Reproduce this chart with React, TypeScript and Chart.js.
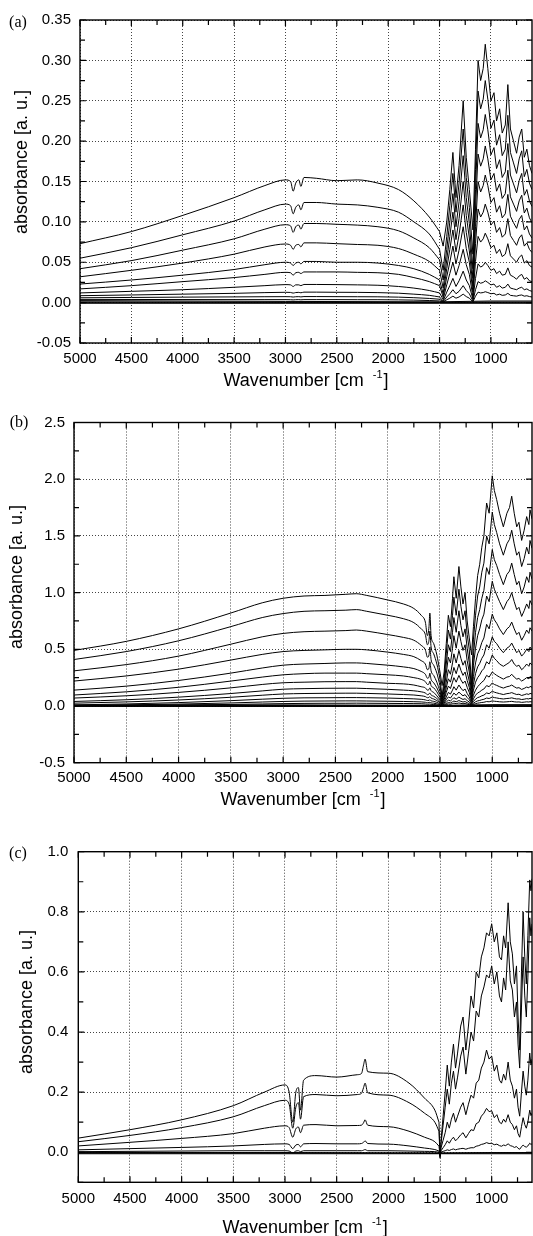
import React, { useEffect, useRef } from 'react';
import { Chart, registerables } from 'chart.js';
Chart.register(...registerables);

// ---------------- Panel (a) ----------------
const A_WN = [5000, 4500, 4000, 3500, 3200, 3000, 2950, 2925, 2900, 2870, 2850, 2820, 2700, 2500, 2300, 2100, 1900, 1750, 1600, 1500,
  1465, 1430, 1400, 1370, 1340, 1310, 1270, 1240, 1210, 1175, 1150, 1125, 1100, 1075, 1055, 1030, 1000, 970, 945, 915, 890, 860, 835, 810, 780, 750, 725, 700, 675, 650, 625, 600];
const A1 = [0.073, 0.088, 0.108, 0.130, 0.145, 0.152, 0.150, 0.138, 0.148, 0.152, 0.144, 0.155, 0.154, 0.151, 0.152, 0.148, 0.140, 0.126, 0.106, 0.088,
  0.070, 0.100, 0.140, 0.186, 0.130, 0.170, 0.250, 0.180, 0.140, 0.090, 0.190, 0.300, 0.275, 0.290, 0.320, 0.290, 0.250, 0.260, 0.225, 0.240, 0.210, 0.220, 0.270, 0.215, 0.200, 0.185, 0.205, 0.215, 0.180, 0.190, 0.170, 0.160];
const A2 = [0.055, 0.068, 0.084, 0.101, 0.115, 0.122, 0.120, 0.110, 0.118, 0.121, 0.115, 0.124, 0.124, 0.122, 0.121, 0.118, 0.112, 0.100, 0.085, 0.066,
  0.040, 0.082, 0.120, 0.160, 0.112, 0.148, 0.215, 0.155, 0.118, 0.060, 0.165, 0.262, 0.240, 0.252, 0.275, 0.252, 0.216, 0.226, 0.195, 0.208, 0.182, 0.190, 0.232, 0.186, 0.173, 0.160, 0.178, 0.188, 0.156, 0.165, 0.148, 0.140];
const A3 = [0.042, 0.052, 0.065, 0.079, 0.091, 0.0965, 0.095, 0.087, 0.094, 0.096, 0.091, 0.098, 0.098, 0.097, 0.096, 0.094, 0.089, 0.080, 0.068, 0.053,
  0.028, 0.066, 0.100, 0.135, 0.094, 0.125, 0.182, 0.130, 0.098, 0.042, 0.140, 0.222, 0.204, 0.214, 0.233, 0.214, 0.183, 0.192, 0.166, 0.177, 0.155, 0.162, 0.197, 0.158, 0.147, 0.136, 0.151, 0.160, 0.133, 0.140, 0.126, 0.119];
const A4 = [0.032, 0.040, 0.049, 0.060, 0.069, 0.0726, 0.071, 0.066, 0.071, 0.072, 0.069, 0.074, 0.074, 0.073, 0.072, 0.071, 0.067, 0.060, 0.051, 0.040,
  0.018, 0.053, 0.082, 0.112, 0.078, 0.104, 0.150, 0.108, 0.080, 0.030, 0.116, 0.184, 0.169, 0.178, 0.194, 0.178, 0.152, 0.160, 0.138, 0.147, 0.129, 0.135, 0.164, 0.131, 0.122, 0.113, 0.126, 0.133, 0.111, 0.117, 0.105, 0.099];
const A5 = [0.023, 0.028, 0.034, 0.041, 0.047, 0.050, 0.049, 0.046, 0.049, 0.050, 0.048, 0.051, 0.051, 0.050, 0.050, 0.049, 0.046, 0.042, 0.035, 0.028,
  0.011, 0.042, 0.066, 0.090, 0.063, 0.084, 0.121, 0.087, 0.064, 0.020, 0.094, 0.150, 0.137, 0.145, 0.158, 0.145, 0.124, 0.130, 0.112, 0.120, 0.105, 0.110, 0.134, 0.107, 0.099, 0.092, 0.103, 0.108, 0.090, 0.095, 0.085, 0.080];
const A6 = [0.017, 0.021, 0.026, 0.031, 0.035, 0.0375, 0.037, 0.034, 0.037, 0.0375, 0.036, 0.038, 0.038, 0.038, 0.0375, 0.037, 0.035, 0.031, 0.026, 0.021,
  0.007, 0.032, 0.050, 0.070, 0.048, 0.065, 0.094, 0.067, 0.050, 0.013, 0.073, 0.116, 0.106, 0.112, 0.122, 0.112, 0.096, 0.101, 0.087, 0.093, 0.081, 0.085, 0.104, 0.083, 0.077, 0.071, 0.080, 0.084, 0.070, 0.074, 0.066, 0.062];
const A7 = [0.012, 0.014, 0.016, 0.019, 0.021, 0.0223, 0.022, 0.020, 0.022, 0.022, 0.021, 0.0225, 0.0225, 0.0223, 0.022, 0.0215, 0.020, 0.018, 0.015, 0.012,
  0.004, 0.022, 0.036, 0.050, 0.034, 0.046, 0.066, 0.047, 0.035, 0.007, 0.051, 0.082, 0.075, 0.079, 0.086, 0.079, 0.068, 0.071, 0.061, 0.066, 0.057, 0.060, 0.073, 0.058, 0.054, 0.050, 0.056, 0.059, 0.049, 0.052, 0.046, 0.044];
const A8 = [0.0086, 0.0095, 0.0105, 0.0115, 0.0124, 0.0128, 0.0126, 0.0118, 0.0125, 0.0127, 0.0122, 0.013, 0.013, 0.0128, 0.0127, 0.0124, 0.0117, 0.0105, 0.009, 0.007,
  0.002, 0.013, 0.021, 0.030, 0.020, 0.027, 0.039, 0.028, 0.021, 0.004, 0.030, 0.048, 0.044, 0.046, 0.050, 0.046, 0.040, 0.042, 0.036, 0.039, 0.034, 0.035, 0.043, 0.034, 0.032, 0.029, 0.033, 0.035, 0.029, 0.031, 0.027, 0.026];
const A9 = [0.006, 0.0064, 0.0068, 0.0071, 0.0073, 0.0074, 0.0073, 0.0069, 0.0073, 0.0074, 0.0071, 0.0075, 0.0075, 0.0074, 0.0073, 0.0072, 0.0068, 0.0061, 0.0052, 0.0042,
  0.001, 0.007, 0.011, 0.016, 0.011, 0.014, 0.021, 0.015, 0.011, 0.002, 0.016, 0.026, 0.024, 0.025, 0.027, 0.025, 0.022, 0.023, 0.019, 0.021, 0.018, 0.019, 0.023, 0.018, 0.017, 0.016, 0.018, 0.019, 0.016, 0.017, 0.015, 0.014];
const A10 = [0.004, 0.0039, 0.0038, 0.0037, 0.0037, 0.0037, 0.0036, 0.0034, 0.0036, 0.0037, 0.0035, 0.0037, 0.0037, 0.0037, 0.0036, 0.0036, 0.0034, 0.0031, 0.0026, 0.0021,
  0.0005, 0.0035, 0.0055, 0.008, 0.0055, 0.007, 0.0105, 0.0075, 0.0055, 0.001, 0.008, 0.013, 0.012, 0.0125, 0.0135, 0.0125, 0.011, 0.0115, 0.0095, 0.0105, 0.009, 0.0095, 0.0115, 0.009, 0.0085, 0.008, 0.009, 0.0095, 0.008, 0.0085, 0.0075, 0.007];
const A_BASE_WN = [5000, 3000, 1500, 1000, 600];
const A_BASE = [
  [0.0025, 0.0015, 0.001, 0.002, 0.002],
  [0.001, 0.0005, 0.0003, 0.0008, 0.0008],
  [0, 0, 0, 0, 0],
  [-0.0008, -0.0008, -0.0008, -0.0008, -0.0008],
];
const A_X_TICKS = [5000, 4500, 4000, 3500, 3000, 2500, 2000, 1500, 1000];
const A_X_MINOR = [4750, 4250, 3750, 3250, 2750, 2250, 1750, 1250, 750];
const A_Y_TICKS = [-0.05, 0, 0.05, 0.1, 0.15, 0.2, 0.25, 0.3, 0.35];
const A_Y_MINOR = [-0.025, 0.025, 0.075, 0.125, 0.175, 0.225, 0.275, 0.325];
const A_SMOOTH_END = 1500;

// ---------------- Panel (b) ----------------
const B_WN = [5000, 4500, 4000, 3500, 3200, 3000, 2800, 2600, 2400, 2300, 2200, 2000, 1850, 1750, 1680, 1640, 1620, 1605, 1597, 1585, 1560, 1530, 1500,
  1480, 1460, 1440, 1420, 1400, 1380, 1367, 1345, 1319, 1300, 1280, 1260, 1240, 1220, 1198, 1180, 1160, 1140, 1120, 1100, 1080, 1054, 1030, 1000, 980, 958, 930, 894, 860, 835, 814, 790, 766, 745, 719, 695, 671, 650, 639, 620];
const B1 = [0.49, 0.57, 0.68, 0.82, 0.91, 0.95, 0.97, 0.975, 0.985, 0.99, 0.975, 0.935, 0.90, 0.86, 0.80, 0.74, 0.62, 0.70, 0.82, 0.62, 0.55, 0.45, 0.30,
  0.18, 0.30, 0.55, 0.80, 0.70, 0.95, 1.14, 0.95, 1.23, 1.05, 0.90, 1.00, 0.75, 0.60, 0.45, 0.70, 0.95, 1.15, 1.25, 1.40, 1.50, 1.79, 1.70, 2.03, 1.90, 1.82, 1.70, 1.58, 1.70, 1.75, 1.85, 1.70, 1.58, 1.62, 1.46, 1.55, 1.67, 1.60, 1.73, 1.65];
const B2 = [0.41, 0.48, 0.575, 0.70, 0.78, 0.815, 0.835, 0.84, 0.845, 0.85, 0.835, 0.80, 0.77, 0.735, 0.68, 0.63, 0.54, 0.58, 0.66, 0.52, 0.46, 0.37, 0.24,
  0.08, 0.24, 0.46, 0.67, 0.59, 0.80, 0.96, 0.80, 1.03, 0.88, 0.76, 0.84, 0.63, 0.50, 0.19, 0.59, 0.80, 0.97, 1.05, 1.18, 1.26, 1.50, 1.43, 1.71, 1.60, 1.53, 1.43, 1.33, 1.43, 1.47, 1.55, 1.43, 1.33, 1.36, 1.23, 1.30, 1.40, 1.34, 1.46, 1.39];
const B3 = [0.31, 0.365, 0.44, 0.545, 0.61, 0.64, 0.655, 0.66, 0.665, 0.67, 0.66, 0.63, 0.605, 0.58, 0.535, 0.495, 0.43, 0.45, 0.52, 0.41, 0.36, 0.29, 0.18,
  0.06, 0.18, 0.37, 0.54, 0.48, 0.65, 0.78, 0.65, 0.84, 0.71, 0.61, 0.68, 0.51, 0.38, 0.15, 0.45, 0.65, 0.78, 0.85, 0.95, 1.02, 1.22, 1.16, 1.38, 1.29, 1.24, 1.16, 1.07, 1.16, 1.19, 1.26, 1.16, 1.07, 1.10, 0.99, 1.05, 1.14, 1.09, 1.18, 1.12];
const B4 = [0.22, 0.265, 0.325, 0.405, 0.455, 0.48, 0.49, 0.495, 0.50, 0.50, 0.495, 0.475, 0.455, 0.435, 0.40, 0.37, 0.32, 0.335, 0.39, 0.31, 0.27, 0.21, 0.13,
  0.045, 0.14, 0.29, 0.43, 0.38, 0.51, 0.62, 0.51, 0.66, 0.57, 0.49, 0.54, 0.40, 0.30, 0.11, 0.36, 0.51, 0.62, 0.68, 0.76, 0.81, 0.97, 0.92, 1.10, 1.03, 0.98, 0.92, 0.85, 0.92, 0.95, 1.00, 0.92, 0.85, 0.87, 0.79, 0.84, 0.90, 0.86, 0.93, 0.89];
const B5 = [0.14, 0.175, 0.225, 0.29, 0.335, 0.36, 0.37, 0.375, 0.38, 0.38, 0.375, 0.36, 0.345, 0.33, 0.305, 0.28, 0.245, 0.255, 0.29, 0.235, 0.205, 0.16, 0.10,
  0.03, 0.10, 0.21, 0.32, 0.28, 0.38, 0.46, 0.38, 0.49, 0.42, 0.36, 0.40, 0.30, 0.22, 0.08, 0.26, 0.38, 0.46, 0.50, 0.56, 0.60, 0.72, 0.68, 0.81, 0.76, 0.73, 0.68, 0.63, 0.68, 0.70, 0.74, 0.68, 0.63, 0.65, 0.58, 0.62, 0.67, 0.64, 0.69, 0.66];
const B6 = [0.097, 0.125, 0.165, 0.22, 0.255, 0.275, 0.285, 0.29, 0.29, 0.29, 0.285, 0.275, 0.265, 0.25, 0.235, 0.215, 0.19, 0.195, 0.22, 0.18, 0.16, 0.125, 0.075,
  0.02, 0.075, 0.16, 0.24, 0.21, 0.285, 0.34, 0.285, 0.37, 0.315, 0.27, 0.30, 0.225, 0.165, 0.06, 0.19, 0.285, 0.345, 0.375, 0.42, 0.45, 0.54, 0.51, 0.61, 0.57, 0.55, 0.51, 0.47, 0.51, 0.525, 0.555, 0.51, 0.47, 0.49, 0.44, 0.465, 0.50, 0.48, 0.52, 0.495];
const B7 = [0.07, 0.09, 0.12, 0.16, 0.19, 0.205, 0.21, 0.214, 0.215, 0.215, 0.21, 0.20, 0.195, 0.185, 0.17, 0.16, 0.14, 0.145, 0.16, 0.135, 0.12, 0.09, 0.055,
  0.015, 0.055, 0.12, 0.176, 0.154, 0.21, 0.25, 0.21, 0.27, 0.23, 0.20, 0.22, 0.165, 0.12, 0.045, 0.14, 0.21, 0.25, 0.275, 0.31, 0.33, 0.39, 0.37, 0.45, 0.42, 0.40, 0.37, 0.35, 0.37, 0.385, 0.41, 0.37, 0.35, 0.36, 0.32, 0.34, 0.37, 0.35, 0.38, 0.36];
const B8 = [0.04, 0.055, 0.078, 0.11, 0.133, 0.148, 0.153, 0.156, 0.157, 0.157, 0.154, 0.147, 0.14, 0.134, 0.125, 0.115, 0.10, 0.105, 0.115, 0.097, 0.086, 0.066, 0.04,
  0.01, 0.037, 0.08, 0.12, 0.105, 0.14, 0.17, 0.14, 0.185, 0.158, 0.135, 0.15, 0.11, 0.08, 0.03, 0.095, 0.14, 0.17, 0.19, 0.21, 0.225, 0.27, 0.255, 0.30, 0.285, 0.27, 0.255, 0.237, 0.255, 0.26, 0.28, 0.255, 0.237, 0.243, 0.22, 0.233, 0.25, 0.24, 0.26, 0.248];
const B9 = [0.025, 0.036, 0.053, 0.077, 0.095, 0.106, 0.11, 0.112, 0.113, 0.113, 0.111, 0.106, 0.101, 0.097, 0.09, 0.083, 0.073, 0.076, 0.083, 0.07, 0.062, 0.048, 0.029,
  0.007, 0.025, 0.055, 0.08, 0.07, 0.095, 0.114, 0.095, 0.123, 0.105, 0.09, 0.10, 0.075, 0.055, 0.02, 0.063, 0.095, 0.115, 0.125, 0.14, 0.15, 0.18, 0.17, 0.203, 0.19, 0.182, 0.17, 0.158, 0.17, 0.175, 0.185, 0.17, 0.158, 0.162, 0.146, 0.155, 0.167, 0.16, 0.173, 0.165];
const B10 = [0.01, 0.018, 0.03, 0.047, 0.06, 0.068, 0.072, 0.073, 0.074, 0.074, 0.073, 0.07, 0.066, 0.063, 0.059, 0.054, 0.048, 0.05, 0.054, 0.046, 0.041, 0.032, 0.019,
  0.004, 0.016, 0.035, 0.051, 0.045, 0.061, 0.073, 0.061, 0.079, 0.067, 0.058, 0.064, 0.048, 0.035, 0.013, 0.04, 0.061, 0.074, 0.08, 0.09, 0.096, 0.115, 0.109, 0.13, 0.122, 0.116, 0.109, 0.101, 0.109, 0.112, 0.118, 0.109, 0.101, 0.104, 0.093, 0.099, 0.107, 0.102, 0.111, 0.106];
const B11 = [0.005, 0.01, 0.017, 0.027, 0.035, 0.04, 0.043, 0.044, 0.045, 0.045, 0.044, 0.042, 0.04, 0.038, 0.036, 0.033, 0.029, 0.03, 0.033, 0.028, 0.025, 0.019, 0.012,
  0.003, 0.01, 0.021, 0.031, 0.027, 0.037, 0.044, 0.037, 0.048, 0.041, 0.035, 0.039, 0.029, 0.021, 0.008, 0.025, 0.037, 0.045, 0.049, 0.055, 0.059, 0.07, 0.066, 0.079, 0.074, 0.071, 0.066, 0.062, 0.066, 0.068, 0.072, 0.066, 0.062, 0.063, 0.057, 0.06, 0.065, 0.062, 0.068, 0.064];
const B12 = [0.002, 0.005, 0.009, 0.014, 0.018, 0.021, 0.023, 0.024, 0.024, 0.025, 0.024, 0.023, 0.022, 0.021, 0.02, 0.018, 0.016, 0.016, 0.018, 0.015, 0.013, 0.01, 0.006,
  0.002, 0.006, 0.012, 0.018, 0.015, 0.021, 0.025, 0.021, 0.027, 0.023, 0.02, 0.022, 0.017, 0.012, 0.005, 0.014, 0.021, 0.025, 0.028, 0.031, 0.033, 0.039, 0.037, 0.045, 0.042, 0.04, 0.037, 0.035, 0.037, 0.039, 0.041, 0.037, 0.035, 0.036, 0.032, 0.034, 0.037, 0.035, 0.038, 0.036];
const B_BASE_WN = [5000, 3000, 1500, 1000, 620];
const B_BASE = [
  [0.008, 0.01, 0.006, 0.012, 0.012],
  [0.003, 0.004, 0.002, 0.005, 0.005],
  [0, 0, 0, 0, 0],
  [-0.004, -0.004, -0.004, -0.004, -0.004],
];
const B_X_TICKS = [5000, 4500, 4000, 3500, 3000, 2500, 2000, 1500, 1000];
const B_X_MINOR = [4750, 4250, 3750, 3250, 2750, 2250, 1750, 1250, 750];
const B_Y_TICKS = [-0.5, 0, 0.5, 1.0, 1.5, 2.0, 2.5];
const B_Y_MINOR = [-0.25, 0.25, 0.75, 1.25, 1.75, 2.25];
const B_SMOOTH_END = 1500;

// ---------------- Panel (c) ----------------
const C_WN = [5000, 4500, 4000, 3500, 3200, 3000, 2960, 2925, 2895, 2870, 2850, 2820, 2700, 2500, 2300, 2260, 2240, 2225, 2200, 2000, 1800, 1650, 1550, 1510,
  1500, 1490, 1470, 1450, 1430, 1410, 1390, 1370, 1350, 1330, 1300, 1277, 1250, 1225, 1200, 1175, 1150, 1125, 1100, 1075, 1050, 1025, 1000, 975, 950, 925, 905, 885, 865, 841, 820, 800, 780, 760, 745, 729, 712, 696, 680, 665, 650, 632, 620, 610];
const C1 = [0.047, 0.075, 0.108, 0.155, 0.200, 0.224, 0.200, 0.100, 0.200, 0.215, 0.140, 0.240, 0.255, 0.250, 0.258, 0.262, 0.290, 0.310, 0.268, 0.263, 0.230, 0.180, 0.140, 0.100,
  -0.020, 0.040, 0.120, 0.200, 0.290, 0.220, 0.300, 0.360, 0.280, 0.330, 0.420, 0.450, 0.340, 0.420, 0.520, 0.480, 0.600, 0.580, 0.650, 0.680,
  0.730, 0.720, 0.760, 0.700, 0.730, 0.650, 0.640, 0.720, 0.680, 0.830, 0.700, 0.660, 0.560, 0.620, 0.450, 0.340, 0.600, 0.800, 0.650, 0.560, 0.720, 0.906, 0.870, 0.910];
const C2 = [0.035, 0.056, 0.082, 0.118, 0.155, 0.173, 0.160, 0.080, 0.150, 0.165, 0.110, 0.185, 0.192, 0.188, 0.192, 0.196, 0.215, 0.230, 0.198, 0.190, 0.165, 0.130, 0.100, 0.070,
  -0.015, 0.030, 0.090, 0.150, 0.210, 0.160, 0.230, 0.270, 0.210, 0.250, 0.320, 0.350, 0.260, 0.330, 0.400, 0.370, 0.470, 0.450, 0.520, 0.550,
  0.590, 0.580, 0.620, 0.560, 0.600, 0.520, 0.500, 0.580, 0.540, 0.700, 0.570, 0.540, 0.450, 0.500, 0.360, 0.280, 0.480, 0.650, 0.520, 0.450, 0.580, 0.780, 0.720, 0.760];
const C3 = [0.021, 0.033, 0.046, 0.062, 0.080, 0.088, 0.082, 0.050, 0.078, 0.084, 0.065, 0.090, 0.092, 0.088, 0.089, 0.090, 0.098, 0.108, 0.090, 0.085, 0.070, 0.050, 0.035, 0.020,
  -0.010, 0.015, 0.040, 0.065, 0.100, 0.080, 0.110, 0.130, 0.100, 0.120, 0.150, 0.165, 0.125, 0.160, 0.190, 0.180, 0.230, 0.240, 0.280, 0.300,
  0.340, 0.310, 0.320, 0.270, 0.290, 0.240, 0.230, 0.260, 0.240, 0.300, 0.240, 0.220, 0.180, 0.210, 0.150, 0.120, 0.200, 0.270, 0.220, 0.190, 0.240, 0.330, 0.290, 0.310];
const C4 = [0.008, 0.012, 0.016, 0.021, 0.026, 0.028, 0.026, 0.012, 0.024, 0.026, 0.018, 0.028, 0.029, 0.028, 0.028, 0.029, 0.033, 0.038, 0.029, 0.027, 0.021, 0.014, 0.009, 0.004,
  -0.012, 0.005, 0.015, 0.025, 0.038, 0.030, 0.042, 0.050, 0.038, 0.045, 0.058, 0.065, 0.048, 0.062, 0.075, 0.072, 0.095, 0.100, 0.120, 0.130,
  0.146, 0.135, 0.138, 0.115, 0.125, 0.100, 0.095, 0.110, 0.100, 0.125, 0.100, 0.092, 0.075, 0.088, 0.062, 0.050, 0.085, 0.115, 0.092, 0.080, 0.100, 0.140, 0.122, 0.130];
const C5 = [0.002, 0.003, 0.004, 0.005, 0.005, 0.005, 0.004, -0.002, 0.004, 0.005, 0.002, 0.005, 0.005, 0.005, 0.005, 0.005, 0.007, 0.009, 0.005, 0.005, 0.004, 0.003, 0.002, 0.000,
  -0.008, 0.000, 0.003, 0.005, 0.008, 0.006, 0.009, 0.011, 0.008, 0.010, 0.012, 0.013, 0.010, 0.013, 0.015, 0.015, 0.020, 0.022, 0.026, 0.028,
  0.032, 0.029, 0.030, 0.025, 0.027, 0.022, 0.020, 0.024, 0.022, 0.028, 0.022, 0.020, 0.016, 0.019, 0.013, 0.010, 0.018, 0.024, 0.019, 0.017, 0.021, 0.030, 0.026, 0.028];
const C_BASE_WN = [5000, 3000, 1500, 1000, 610];
const C_BASE = [
  [-0.001, -0.001, -0.002, -0.001, -0.001],
  [-0.003, -0.003, -0.004, -0.003, -0.003],
  [-0.005, -0.005, -0.005, -0.005, -0.005],
];
const C_X_TICKS = [5000, 4500, 4000, 3500, 3000, 2500, 2000, 1500, 1000];
const C_X_MINOR = [4750, 4250, 3750, 3250, 2750, 2250, 1750, 1250, 750];
const C_Y_TICKS = [0, 0.2, 0.4, 0.6, 0.8, 1.0];
const C_Y_MINOR = [-0.1, 0.1, 0.3, 0.5, 0.7, 0.9];
const C_SMOOTH_END = 1510;

const SANS = '"Liberation Sans", Arial, Helvetica, sans-serif';
const SERIF = '"Liberation Serif", "Times New Roman", serif';

type PanelCfg = {
  label: string; top: number; height: number; padTop: number; yWidth: number; xHeight: number;
  xMin: number; yMin: number; yMax: number; xTicks: number[]; xMinor: number[]; yTicks: number[]; yMinor: number[];
  yDigits: number; wn: number[]; curves: number[][]; baseWn: number[]; base: number[][]; smoothEnd: number;
  yTitleX: number; yTitleY: number; xTitleY: number; labelX: number; labelY: number; xTickPad: number; yTickPad: number;
};

const PANELS: PanelCfg[] = [
  {
    label: '(a)', top: 0, height: 395, padTop: 20, yWidth: 80, xHeight: 52,
    xMin: 600, yMin: -0.05, yMax: 0.35, xTicks: A_X_TICKS, xMinor: A_X_MINOR, yTicks: A_Y_TICKS, yMinor: A_Y_MINOR,
    yDigits: 2, wn: A_WN, curves: [A1, A2, A3, A4, A5, A6, A7, A8, A9, A10], baseWn: A_BASE_WN, base: A_BASE, smoothEnd: A_SMOOTH_END,
    yTitleX: 22, yTitleY: 162, xTitleY: 381, labelX: 18, labelY: 23, xTickPad: 7, yTickPad: 9,
  },
  {
    label: '(b)', top: 400, height: 410, padTop: 22.5, yWidth: 74, xHeight: 47.3,
    xMin: 620, yMin: -0.5, yMax: 2.5, xTicks: B_X_TICKS, xMinor: B_X_MINOR, yTicks: B_Y_TICKS, yMinor: B_Y_MINOR,
    yDigits: 1, wn: B_WN, curves: [B1, B2, B3, B4, B5, B6, B7, B8, B9, B10, B11, B12], baseWn: B_BASE_WN, base: B_BASE, smoothEnd: B_SMOOTH_END,
    yTitleX: 17, yTitleY: 177, xTitleY: 400, labelX: 19, labelY: 23, xTickPad: 6.3, yTickPad: 9,
  },
  {
    label: '(c)', top: 815, height: 421, padTop: 36.7, yWidth: 78.3, xHeight: 53.7,
    xMin: 610, yMin: -0.1, yMax: 1.0, xTicks: C_X_TICKS, xMinor: C_X_MINOR, yTicks: C_Y_TICKS, yMinor: C_Y_MINOR,
    yDigits: 1, wn: C_WN, curves: [C1, C2, C3, C4, C5], baseWn: C_BASE_WN, base: C_BASE, smoothEnd: C_SMOOTH_END,
    yTitleX: 27, yTitleY: 187, xTitleY: 413, labelX: 18, labelY: 39, xTickPad: 7.7, yTickPad: 10,
  },
];

function makePlugin(p: PanelCfg) {
  return {
    id: 'frameDeco',
    afterDraw(chart: any) {
      const { ctx, chartArea } = chart;
      const { left, right, top, bottom } = chartArea;
      const xs = chart.scales.x;
      const ys = chart.scales.y;
      ctx.save();
      ctx.strokeStyle = '#000';
      ctx.lineWidth = 1.4;
      ctx.strokeRect(left, top, right - left, bottom - top);
      ctx.lineWidth = 1.2;
      ctx.beginPath();
      const tick = (v: number, len: number) => {
        const px = xs.getPixelForValue(v);
        ctx.moveTo(px, bottom); ctx.lineTo(px, bottom - len);
        ctx.moveTo(px, top); ctx.lineTo(px, top + len);
      };
      const ytick = (v: number, len: number) => {
        const py = ys.getPixelForValue(v);
        ctx.moveTo(left, py); ctx.lineTo(left + len, py);
        ctx.moveTo(right, py); ctx.lineTo(right - len, py);
      };
      p.xTicks.forEach((v) => tick(v, 6));
      p.xMinor.forEach((v) => tick(v, 5));
      p.yTicks.forEach((v) => ytick(v, 6));
      p.yMinor.forEach((v) => ytick(v, 5));
      ctx.stroke();

      ctx.fillStyle = '#000';
      ctx.font = `16px ${SERIF}`;
      ctx.textAlign = 'center';
      ctx.textBaseline = 'middle';
      ctx.fillText(p.label, p.labelX, p.labelY);

      ctx.save();
      ctx.translate(p.yTitleX, p.yTitleY);
      ctx.rotate(-Math.PI / 2);
      ctx.font = `18px ${SANS}`;
      ctx.textAlign = 'center';
      ctx.textBaseline = 'middle';
      ctx.fillText('absorbance [a. u.]', 0, 0);
      ctx.restore();

      const main = 'Wavenumber [cm';
      const sup = '-1';
      const close = ']';
      ctx.font = `18px ${SANS}`;
      const wMain = ctx.measureText(main).width;
      const wClose = ctx.measureText(close).width;
      ctx.font = `11px ${SANS}`;
      const wSup = ctx.measureText(sup).width;
      const gap = 9;
      const total = wMain + gap + wSup + 1 + wClose;
      const cx = (left + right) / 2;
      const x0 = cx - total / 2;
      ctx.textAlign = 'left';
      ctx.textBaseline = 'middle';
      ctx.font = `18px ${SANS}`;
      ctx.fillText(main, x0, p.xTitleY);
      ctx.font = `11px ${SANS}`;
      ctx.fillText(sup, x0 + wMain + gap, p.xTitleY - 6);
      ctx.font = `18px ${SANS}`;
      ctx.fillText(close, x0 + wMain + gap + wSup + 1, p.xTitleY);
      ctx.restore();
    },
  };
}

function PanelChart({ p }: { p: PanelCfg }) {
  const ref = useRef<HTMLCanvasElement | null>(null);
  useEffect(() => {
    if (!ref.current) return;
    const datasets: any[] = [];
    const mk = (pts: { x: number; y: number }[], smooth: boolean) => ({
      data: pts,
      borderColor: '#000',
      borderWidth: 1,
      pointRadius: 0,
      tension: smooth ? 0.4 : 0,
      cubicInterpolationMode: smooth ? 'monotone' : 'default',
      fill: false,
    });
    p.base.forEach((b) => datasets.push(mk(p.baseWn.map((w, i) => ({ x: w, y: b[i] })), false)));
    p.curves.forEach((c) => {
      const pts = p.wn.map((w, i) => ({ x: w, y: c[i] }));
      const k = p.wn.indexOf(p.smoothEnd);
      datasets.push(mk(pts.slice(0, k + 1), true));
      datasets.push(mk(pts.slice(k), false));
    });
    const chart = new Chart(ref.current, {
      type: 'line',
      data: { datasets },
      options: {
        animation: false,
        responsive: false,
        maintainAspectRatio: false,
        devicePixelRatio: 1,
        layout: { padding: { top: p.padTop, right: 1, left: 0, bottom: 0 } },
        plugins: { legend: { display: false }, tooltip: { enabled: false }, title: { display: false } },
        events: [],
        scales: {
          x: {
            type: 'linear',
            reverse: true,
            min: p.xMin,
            max: 5000,
            afterBuildTicks: (s: any) => { s.ticks = p.xTicks.map((v) => ({ value: v })); },
            afterFit: (s: any) => { s.height = p.xHeight; },
            ticks: { color: '#000', font: { family: SANS, size: 15 }, padding: p.xTickPad, maxRotation: 0, autoSkip: false, callback: (v: any) => String(v) },
            grid: { color: '#444', lineWidth: 1, drawTicks: false },
            border: { display: false, dash: [1, 2] },
          },
          y: {
            type: 'linear',
            min: p.yMin,
            max: p.yMax,
            afterBuildTicks: (s: any) => { s.ticks = p.yTicks.map((v) => ({ value: v })); },
            afterFit: (s: any) => { s.width = p.yWidth; },
            ticks: { color: '#000', font: { family: SANS, size: 15 }, padding: p.yTickPad, autoSkip: false, callback: (v: any) => Number(v).toFixed(p.yDigits) },
            grid: { color: '#444', lineWidth: 1, drawTicks: false },
            border: { display: false, dash: [1, 2] },
          },
        },
      } as any,
      plugins: [makePlugin(p)],
    });
    return () => chart.destroy();
  }, [p]);
  return (
    <canvas
      ref={ref}
      width={533}
      height={p.height}
      style={{ position: 'absolute', left: 0, top: p.top, width: 533, height: p.height }}
    />
  );
}

export default function App() {
  return (
    <div style={{ position: 'absolute', left: 0, top: 0, width: 533, height: 1236, background: '#fff', overflow: 'hidden' }}>
      {PANELS.map((p) => (
        <PanelChart key={p.label} p={p} />
      ))}
    </div>
  );
}
